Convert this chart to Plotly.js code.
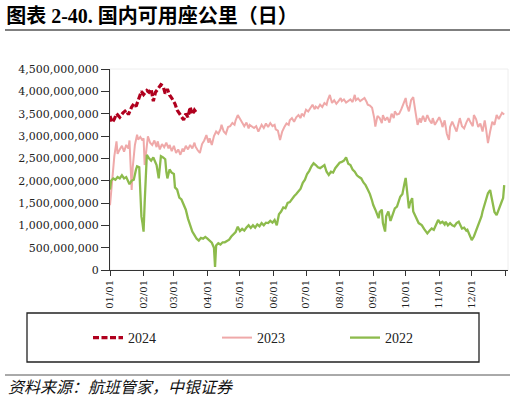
<!DOCTYPE html>
<html><head><meta charset="utf-8">
<script src="https://cdn.plot.ly/plotly-3.0.1.min.js"></script>
<style>html,body{margin:0;padding:0;background:#fff}#chart{width:515px;height:402px}</style>
</head><body><div id="chart"></div>
<script>
// Day-of-year index (0 = 01/01) and values in billions of seat-km
var monthTickDays = [0,31,59,90,120,151,181,212,243,273,304,334,365];
var monthTickLabels = ["01/01","02/01","03/01","04/01","05/01","06/01","07/01","08/01","09/01","10/01","11/01","12/01",""];
var yTickVals = [0,5e8,1e9,1.5e9,2e9,2.5e9,3e9,3.5e9,4e9,4.5e9];

var days2024 = [0,2,4,6,9,12,15,17,20,22,24,27,29,31,34,36,38,40,42,45,47,49,51,53,55,57,60,62,64,66,68,70,72,74,76,78,80];
var vals2024 = [3.45,3.30,3.38,3.50,3.42,3.52,3.58,3.48,3.65,3.72,3.66,3.85,4.00,3.93,4.02,3.98,4.05,3.78,3.98,4.08,4.15,4.12,3.95,4.05,3.92,3.85,3.72,3.58,3.50,3.42,3.36,3.50,3.42,3.65,3.48,3.58,3.52];

var days2023 = [0,2,4,6,7,9,11,13,15,17,
 18,20,21,23,25,26,28,30,31,32,
 34,35,37,39,41,43,44,46,48,50,
 52,54,55,57,59,61,63,65,67,68,
 70,72,74,76,78,79,81,83,85,87,
 89,91,92,94,96,98,100,102,103,105,
 107,109,111,113,115,116,118,120,122,124,
 126,128,129,131,133,135,137,139,140,142,
 144,146,148,150,152,153,155,157,159,161,
 163,165,166,168,170,172,174,176,177,179,
 181,183,185,187,189,190,192,194,196,198,
 200,201,203,205,207,209,211,213,214,216,
 218,220,222,224,226,227,229,231,233,235,
 237,238,240,242,244,245,247,249,251,252,
 254,256,258,260,262,263,265,267,269,271,
 273,274,276,278,280,282,284,286,287,289,
 291,293,295,297,298,300,302,304,306,307,
 309,311,313,314,316,318,320,322,323,325,
 327,329,331,333,335,336,338,340,342,344,
 346,347,349,351,353,355,357,359,360,362,
 364];
var vals2023 = [1.45,2.00,2.55,2.88,2.60,2.70,2.78,2.65,2.80,2.72,
 2.90,1.79,2.30,2.80,3.03,2.92,2.98,2.90,2.95,2.35,
 2.70,2.99,2.85,2.80,2.90,2.75,2.88,2.70,2.82,2.75,
 2.85,2.72,2.80,2.66,2.78,2.62,2.70,2.58,2.72,2.65,
 2.78,2.70,2.80,2.72,2.85,2.76,2.68,2.62,2.82,2.90,
 3.02,2.85,2.95,2.80,3.00,3.10,3.05,3.15,3.25,3.10,
 3.05,3.20,3.22,3.29,3.25,3.35,3.47,3.38,3.30,3.22,
 3.30,3.17,3.25,3.22,3.18,3.22,3.10,3.20,3.25,3.18,
 3.28,3.20,3.29,3.22,3.25,3.15,3.12,2.91,3.10,3.20,
 3.28,3.25,3.35,3.40,3.32,3.42,3.47,3.40,3.50,3.45,
 3.59,3.55,3.63,3.70,3.60,3.66,3.62,3.70,3.65,3.74,
 3.70,3.80,3.92,3.74,3.80,3.72,3.78,3.85,3.78,3.82,
 3.75,3.78,3.82,3.76,3.92,3.80,3.84,3.78,3.82,3.85,
 3.76,3.70,3.68,3.63,3.40,3.21,3.45,3.40,3.29,3.47,
 3.35,3.42,3.30,3.50,3.40,3.55,3.48,3.50,3.60,3.75,
 3.85,3.70,3.55,3.80,3.87,3.55,3.25,3.40,3.30,3.45,
 3.32,3.47,3.35,3.28,3.40,3.25,3.35,3.42,3.30,3.20,
 3.35,3.05,2.91,3.20,3.32,3.20,3.10,3.30,3.40,3.22,
 3.17,3.30,3.40,3.30,3.22,3.47,3.38,3.20,3.28,3.10,
 3.35,3.20,2.84,3.10,3.32,3.25,3.47,3.38,3.42,3.52,
 3.48];

var days2022 = [0,1,3,5,7,9,11,13,15,17,
 18,20,22,24,25,27,29,30,31,32,
 34,36,38,40,42,43,45,46,47,49,
 51,52,53,55,57,59,60,62,64,66,
 68,70,72,74,76,78,80,82,84,86,
 88,90,92,94,96,97,98,100,102,104,
 106,108,110,112,114,116,118,120,122,124,
 126,128,130,132,134,136,138,140,142,144,
 146,148,150,152,154,156,158,160,162,164,
 166,168,170,172,174,176,178,180,182,184,
 186,188,190,192,194,196,198,200,202,204,
 206,208,210,212,214,216,218,220,222,224,
 226,228,230,232,234,236,238,240,242,243,
 245,247,248,249,251,252,254,255,257,259,
 260,262,263,265,267,268,270,271,272,273,
 274,276,277,279,280,282,283,285,287,288,
 290,292,293,295,297,299,301,303,305,307,
 309,310,312,314,316,318,320,322,324,325,
 327,329,330,332,334,336,338,339,341,343,
 344,346,348,349,351,352,354,355,357,358,
 360,362,363,364];
var vals2022 = [1.80,2.00,2.05,2.02,2.08,2.05,2.12,2.05,2.08,1.98,
 1.92,2.00,2.02,2.25,2.32,2.30,1.20,1.05,0.86,1.50,
 2.58,2.50,2.45,2.52,2.40,2.35,2.05,2.30,2.55,2.52,
 2.48,2.20,2.05,2.25,2.18,2.15,1.85,1.80,1.62,1.58,
 1.45,1.35,1.15,1.02,0.86,0.78,0.70,0.66,0.72,0.70,
 0.74,0.70,0.65,0.61,0.50,0.07,0.55,0.60,0.57,0.62,
 0.62,0.66,0.68,0.75,0.80,0.85,0.97,0.87,0.92,0.88,
 0.95,1.00,0.94,1.00,0.95,1.02,0.98,1.05,1.00,1.06,
 1.05,1.10,1.06,1.12,1.00,1.25,1.31,1.40,1.38,1.50,
 1.52,1.60,1.65,1.70,1.75,1.82,1.95,2.02,2.15,2.22,
 2.32,2.39,2.35,2.30,2.28,2.32,2.35,2.20,2.13,2.20,
 2.18,2.28,2.35,2.40,2.42,2.45,2.52,2.38,2.35,2.25,
 2.20,2.12,2.08,2.05,1.96,1.90,1.80,1.70,1.55,1.46,
 1.35,1.22,1.16,1.30,1.35,1.05,0.86,1.20,1.31,1.10,
 1.16,1.30,1.38,1.42,1.55,1.64,1.70,1.87,1.95,2.06,
 1.80,1.38,1.50,1.61,1.31,1.20,1.12,1.05,1.02,1.00,
 0.92,0.85,0.82,0.88,0.93,0.90,1.00,1.12,1.05,1.08,
 1.02,1.08,1.00,1.05,1.00,0.98,1.05,1.08,0.98,0.93,
 0.95,0.88,0.90,0.80,0.67,0.75,0.88,0.93,1.05,1.20,
 1.31,1.50,1.68,1.72,1.79,1.65,1.46,1.30,1.23,1.30,
 1.46,1.55,1.61,1.90];

var BIL = 1e9;
function scale(a){ return a.map(function(v){ return v*BIL; }); }

// plot area in pixels
var L = 110, R = 508, T = 69, B = 270;
function px(x){ return (x - L)/(R - L); }
function py(y){ return (B - y)/(B - T); }

var serif = "Liberation Serif, Times New Roman, serif";
var wideSerif = "DejaVu Serif, serif";
var cjk = "Noto Sans CJK SC, sans-serif";

var traces = [
  {x: days2024, y: scale(vals2024), name: "2024", type: "scatter", mode: "lines", legend: "legend",
   line: {color: "#B0001E", width: 3.2, dash: "6px,2.5px"}},
  {x: days2023, y: scale(vals2023), name: "2023", type: "scatter", mode: "lines", legend: "legend2",
   line: {color: "#EFA9A9", width: 2}},
  {x: days2022, y: scale(vals2022), name: "2022", type: "scatter", mode: "lines", legend: "legend3",
   line: {color: "#8DBB4C", width: 2.3}}
];

function legendAt(xpix){
  return {orientation: "h", x: px(xpix), xanchor: "left", y: py(338), yanchor: "middle",
          font: {family: serif, size: 14, color: "#222"}, bgcolor: "rgba(0,0,0,0)",
          borderwidth: 0, itemwidth: 30};
}

var layout = {
  width: 515, height: 402,
  margin: {l: L, r: 515 - R, t: T, b: 402 - B, pad: 0},
  paper_bgcolor: "#fff", plot_bgcolor: "#fff",
  showlegend: true,
  title: {text: "<b>图表 2-40. 国内可用座公里（日）</b>", xref: "container", yref: "container",
          x: 0.012, xanchor: "left", y: 1 - 16/402, yanchor: "middle",
          font: {family: "Liberation Serif, Noto Sans CJK SC, serif", size: 20, color: "#000"}},
  xaxis: {range: [0, 367.5], tickmode: "array", tickvals: monthTickDays, ticktext: monthTickLabels,
          tickangle: -90, ticks: "outside", ticklen: 5, tickcolor: "#333", tickwidth: 1,
          showline: true, linecolor: "#333", linewidth: 1, showgrid: false, zeroline: false,
          tickfont: {family: wideSerif, size: 10, color: "#222"}},
  yaxis: {range: [0, 4.5e9], tickmode: "array", tickvals: yTickVals, tickformat: ",d",
          ticks: "outside", ticklen: 8, tickcolor: "#333", tickwidth: 1,
          showline: true, linecolor: "#333", linewidth: 1, showgrid: false, zeroline: false,
          tickfont: {family: wideSerif, size: 11, color: "#222"}},
  legend: legendAt(88),
  legend2: legendAt(217),
  legend3: legendAt(345),
  shapes: [
    {type: "rect", xref: "paper", yref: "paper", x0: 0, x1: 1, y0: 0, y1: 1,
     line: {color: "#eeeeee", width: 1}, layer: "below"},
    {type: "line", xref: "paper", yref: "paper", x0: px(5), x1: px(510), y0: py(30), y1: py(30),
     line: {color: "#000", width: 1.2}},
    {type: "rect", xref: "paper", yref: "paper", x0: px(27), x1: px(479), y0: py(313), y1: py(362),
     line: {color: "#222", width: 1.3}},
    {type: "line", xref: "paper", yref: "paper", x0: px(5), x1: px(510), y0: py(375), y1: py(375),
     line: {color: "#555", width: 1}}
  ],
  annotations: [
    {text: "<i>资料来源：航班管家，中银证券</i>", xref: "paper", yref: "paper",
     x: px(6), xanchor: "left", y: py(386), yanchor: "middle", showarrow: false,
     font: {family: cjk, size: 16, color: "#111"}}
  ]
};

Plotly.newPlot("chart", traces, layout, {staticPlot: true, displayModeBar: false});
</script></body></html>
